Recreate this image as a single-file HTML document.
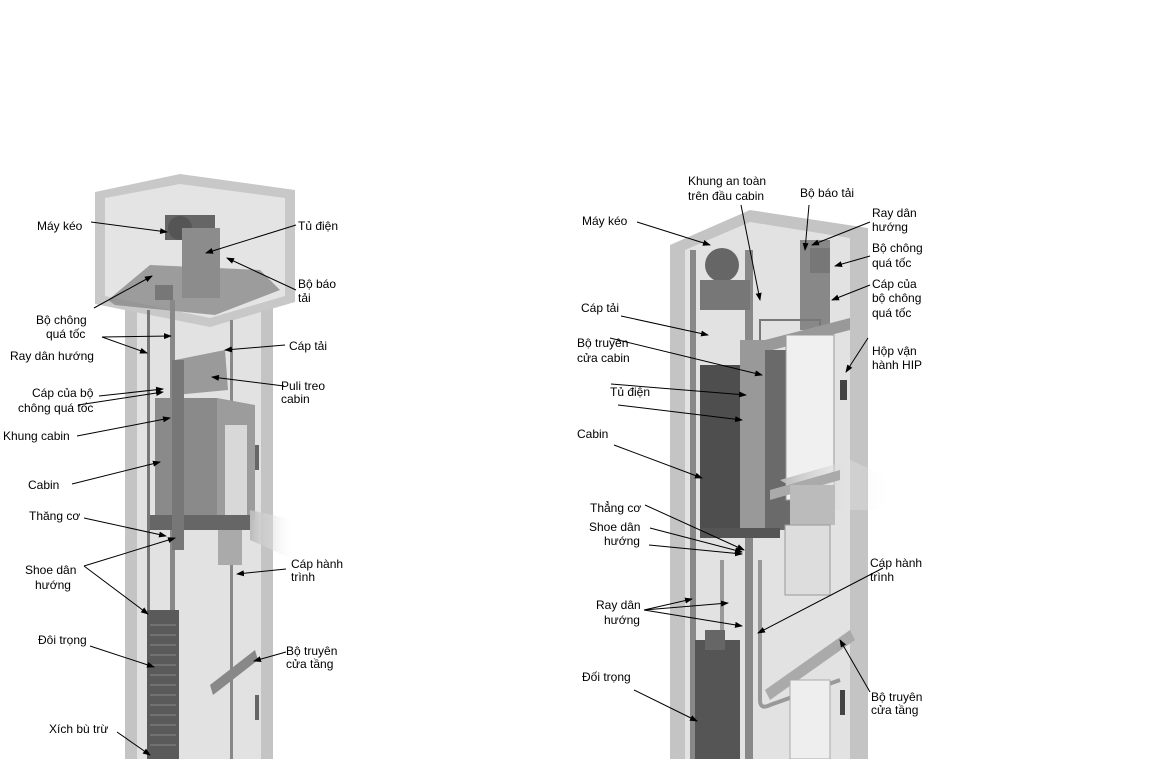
<!DOCTYPE html>
<html><head><meta charset="utf-8"><style>
body{margin:0;background:#fff;width:1152px;height:759px;overflow:hidden}
svg text{font-family:"Liberation Sans",Arial,sans-serif;font-size:12px;fill:#000}
</style></head><body>
<svg width="1152" height="759" viewBox="0 0 1152 759" xmlns="http://www.w3.org/2000/svg">
<defs><marker id="a" markerWidth="8" markerHeight="8" refX="7" refY="4" orient="auto" markerUnits="userSpaceOnUse"><path d="M0,1 L8,4 L0,7 z" fill="#000"/></marker>
<linearGradient id="sh" x1="0" x2="1"><stop offset="0" stop-color="#bbb"/><stop offset="1" stop-color="#fff" stop-opacity="0"/></linearGradient></defs>

<!-- LEFT SHAFT -->
<rect x="125" y="300" width="148" height="459" fill="#c4c4c4"/>
<rect x="137" y="300" width="124" height="459" fill="#e2e2e2"/>
<polygon points="95,192 180,174 295,190 295,302 210,327 95,304" fill="#c8c8c8"/>
<polygon points="105,198 180,184 285,198 285,296 210,318 105,296" fill="#e4e4e4"/>
<polygon points="108,300 150,265 260,270 280,290 215,315 115,305" fill="#8a8a8a" opacity="0.8"/>
<rect x="165" y="215" width="50" height="25" fill="#666"/>
<circle cx="180" cy="228" r="12" fill="#555"/>
<rect x="182" y="228" width="38" height="70" fill="#8c8c8c"/>
<rect x="155" y="285" width="18" height="15" fill="#777"/>
<rect x="147" y="310" width="3" height="449" fill="#777"/>
<rect x="170" y="300" width="5" height="459" fill="#888"/>
<rect x="230" y="320" width="3" height="439" fill="#888"/>
<polygon points="175,360 225,350 228,390 175,395" fill="#9a9a9a"/>
<rect x="155" y="398" width="62" height="128" fill="#8a8a8a"/>
<polygon points="217,398 255,405 255,520 217,530" fill="#9c9c9c"/>
<rect x="225" y="425" width="22" height="95" fill="#d8d8d8"/>
<rect x="150" y="515" width="100" height="15" fill="#666"/>
<rect x="172" y="360" width="12" height="190" fill="#777"/>
<polygon points="250,510 295,520 295,560 250,540" fill="url(#sh)"/>
<rect x="218" y="530" width="24" height="35" fill="#aaa"/>
<rect x="147" y="610" width="32" height="149" fill="#5a5a5a"/>
<g stroke="#888" stroke-width="1"><path d="M150,625H176M150,635H176M150,645H176M150,655H176M150,665H176M150,675H176M150,685H176M150,695H176M150,705H176M150,715H176M150,725H176M150,735H176M150,745H176"/></g>
<polygon points="210,685 255,650 258,660 213,695" fill="#888"/>
<rect x="255" y="445" width="4" height="25" fill="#666"/>
<rect x="255" y="695" width="4" height="25" fill="#666"/>

<!-- RIGHT SHAFT -->
<polygon points="670,245 750,210 868,228 868,759 670,759" fill="#c4c4c4"/>
<polygon points="685,250 750,222 850,238 850,759 685,759" fill="#e2e2e2"/>
<rect x="690" y="250" width="6" height="509" fill="#888"/>
<rect x="745" y="250" width="8" height="509" fill="#888"/>
<rect x="720" y="560" width="4" height="199" fill="#999"/>
<circle cx="722" cy="265" r="17" fill="#666"/>
<rect x="700" y="280" width="50" height="30" fill="#777"/>
<rect x="800" y="240" width="30" height="90" fill="#888"/>
<rect x="810" y="248" width="20" height="25" fill="#777"/>
<rect x="760" y="320" width="60" height="40" fill="none" stroke="#777" stroke-width="2"/>
<polygon points="765,340 850,318 850,330 765,352" fill="#999"/>
<rect x="700" y="365" width="42" height="165" fill="#4e4e4e"/>
<rect x="740" y="340" width="25" height="190" fill="#999"/>
<rect x="765" y="350" width="25" height="180" fill="#6a6a6a"/>
<rect x="786" y="335" width="48" height="165" fill="#f0f0f0" stroke="#999"/>
<polygon points="780,480 850,460 895,480 895,510 830,510" fill="url(#sh)"/>
<polygon points="770,490 840,470 840,480 770,500" fill="#aaa"/>
<rect x="790" y="485" width="45" height="40" fill="#bbb"/>
<rect x="785" y="525" width="45" height="70" fill="#ddd" stroke="#999"/>
<rect x="700" y="528" width="80" height="10" fill="#555"/>
<path d="M760,560 V700 Q760,710 770,705 L840,680" stroke="#999" stroke-width="4" fill="none"/>
<polygon points="765,690 850,630 855,640 770,700" fill="#aaa"/>
<rect x="790" y="680" width="40" height="79" fill="#eee" stroke="#aaa"/>
<rect x="695" y="640" width="45" height="119" fill="#555"/>
<rect x="705" y="630" width="20" height="20" fill="#666"/>
<rect x="840" y="380" width="7" height="20" fill="#444"/>
<rect x="840" y="690" width="5" height="25" fill="#444"/>

<g stroke="#000" stroke-width="1" fill="none" marker-end="url(#a)">
<path d="M91,222 L167,232"/>
<path d="M296,225 L206,253"/>
<path d="M296,290 L227,258"/>
<path d="M94,308 L152,276"/>
<path d="M285,345 L225,350"/>
<path d="M102,337 L171,336"/>
<path d="M102,337 L147,353"/>
<path d="M99,396 L163,389"/>
<path d="M78,405 L163,392"/>
<path d="M77,436 L170,418"/>
<path d="M72,484 L160,462"/>
<path d="M284,386 L212,377"/>
<path d="M84,518 L166,536"/>
<path d="M84,566 L175,538"/>
<path d="M84,566 L148,614"/>
<path d="M286,569 L237,574"/>
<path d="M90,646 L154,667"/>
<path d="M286,652 L254,661"/>
<path d="M117,732 L150,755"/>
</g>
<text x="37" y="230">Máy kéo</text>
<text x="298" y="230">Tủ điện</text>
<text x="298" y="288">Bộ báo</text><text x="298" y="302">tải</text>
<text x="36" y="324">Bộ chông</text><text x="46" y="338">quá tốc</text>
<text x="289" y="350">Cáp tải</text>
<text x="10" y="360">Ray dân hướng</text>
<text x="281" y="390">Puli treo</text><text x="281" y="403">cabin</text>
<text x="32" y="397">Cáp của bộ</text><text x="18" y="412">chông quá tốc</text>
<text x="3" y="440">Khung cabin</text>
<text x="28" y="489">Cabin</text>
<text x="29" y="520">Thăng cơ</text>
<text x="25" y="574">Shoe dân</text><text x="35" y="589">hướng</text>
<text x="291" y="568">Cáp hành</text><text x="291" y="581">trình</text>
<text x="38" y="644">Đôi trọng</text>
<text x="286" y="655">Bộ truyên</text><text x="286" y="668">cửa tầng</text>
<text x="49" y="733">Xích bù trừ</text>

<g stroke="#000" stroke-width="1" fill="none" marker-end="url(#a)">
<path d="M637,222 L710,245"/>
<path d="M741,205 L760,300"/>
<path d="M809,205 L805,250"/>
<path d="M870,222 L812,245"/>
<path d="M870,256 L835,266"/>
<path d="M870,285 L832,300"/>
<path d="M868,338 L846,372"/>
<path d="M621,316 L708,335"/>
<path d="M610,338 L762,375"/>
<path d="M611,384 L746,395"/>
<path d="M618,405 L742,420"/>
<path d="M614,445 L702,478"/>
<path d="M645,505 L744,550"/>
<path d="M650,528 L742,552"/>
<path d="M649,545 L742,554"/>
<path d="M644,610 L692,599"/>
<path d="M644,610 L728,603"/>
<path d="M644,610 L742,626"/>
<path d="M883,568 L758,633"/>
<path d="M634,690 L697,721"/>
<path d="M870,692 L840,640"/>
</g>
<text x="688" y="185">Khung an toàn</text><text x="688" y="200">trên đầu cabin</text>
<text x="800" y="197">Bộ báo tải</text>
<text x="872" y="217">Ray dân</text><text x="872" y="231">hướng</text>
<text x="872" y="252">Bộ chông</text><text x="872" y="267">quá tốc</text>
<text x="872" y="288">Cáp của</text><text x="872" y="302">bộ chông</text><text x="872" y="317">quá tốc</text>
<text x="872" y="355">Hộp vận</text><text x="872" y="369">hành HIP</text>
<text x="582" y="225">Máy kéo</text>
<text x="581" y="312">Cáp tải</text>
<text x="577" y="347">Bộ truyên</text><text x="577" y="362">cửa cabin</text>
<text x="610" y="396">Tủ điện</text>
<text x="577" y="438">Cabin</text>
<text x="590" y="512">Thẳng cơ</text>
<text x="589" y="531">Shoe dân</text><text x="604" y="545">hướng</text>
<text x="870" y="567">Cáp hành</text><text x="870" y="581">trình</text>
<text x="596" y="609">Ray dân</text><text x="604" y="624">hướng</text>
<text x="582" y="681">Đối trọng</text>
<text x="871" y="701">Bộ truyên</text><text x="871" y="714">cửa tầng</text>
</svg>
</body></html>
